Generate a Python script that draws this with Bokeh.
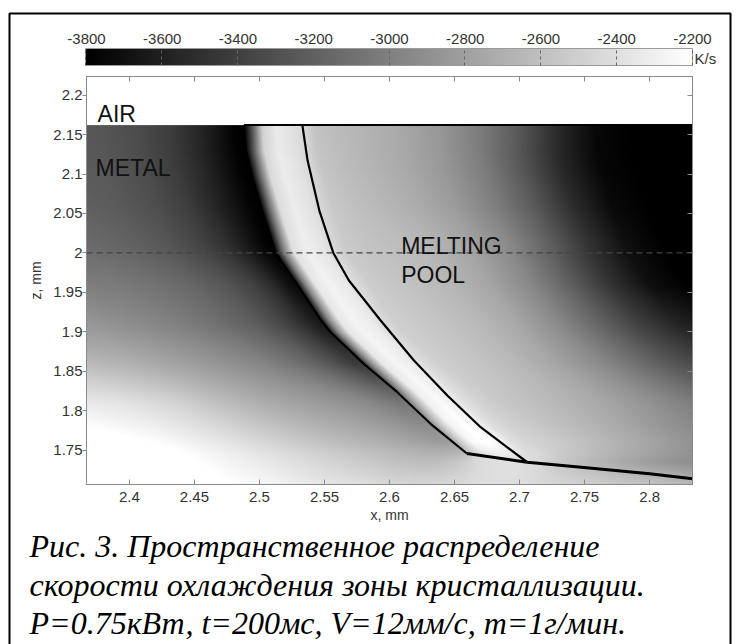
import numpy as np
from bokeh.plotting import figure
from bokeh.models import (LinearColorMapper, ColorBar, LinearAxis, Range1d, FixedTicker,
                          Label, Span, Title)
from bokeh.palettes import Greys256
from bokeh.embed import file_html
from bokeh.resources import INLINE

# ---------------- data ----------------
x_lo, x_hi = 2.367, 2.833          # visible x range, mm
z_lo, z_hi = 1.7065, 2.2236        # visible z range, mm
surface_z = 2.162                  # air / metal interface
dash_z = 2.0                       # dashed reference level

rate_lo, rate_hi = -3800, -2200    # colour scale, K/s
cb_ticks = [-3800, -3600, -3400, -3200, -3000, -2800, -2600, -2400, -2200]
cb_tick_labels = ["-3800", "-3600", "-3400", "-3200", "-3000", "-2800", "-2600", "-2400", "-2200"]

x_ticks = [2.4, 2.45, 2.5, 2.55, 2.6, 2.65, 2.7, 2.75, 2.8]
x_tick_labels = ["2.4", "2.45", "2.5", "2.55", "2.6", "2.65", "2.7", "2.75", "2.8"]
z_ticks = [1.75, 1.8, 1.85, 1.9, 1.95, 2.0, 2.05, 2.1, 2.15, 2.2]
z_tick_labels = ["1.75", "1.8", "1.85", "1.9", "1.95", "2", "2.05", "2.1", "2.15", "2.2"]

# solidification fronts and pool boundary
front_a_x = [2.488, 2.4895, 2.4945, 2.502, 2.5124, 2.5285, 2.5475, 2.5547, 2.5803, 2.606, 2.6316, 2.6595]
front_a_z = [2.162, 2.130, 2.096, 2.054, 2.000, 1.961, 1.9143, 1.8995, 1.8594, 1.8235, 1.7834, 1.7458]
front_b_x = [2.533, 2.537, 2.546, 2.5568, 2.5688, 2.5932, 2.6188, 2.6445, 2.6701, 2.6906, 2.7059]
front_b_z = [2.162, 2.117, 2.054, 2.000, 1.965, 1.9143, 1.8636, 1.8193, 1.7791, 1.7537, 1.7347]
pool_bottom_x = [2.6595, 2.7059, 2.7516, 2.800, 2.833]
pool_bottom_z = [1.7458, 1.7347, 1.7276, 1.7200, 1.7137]
pool_top_x = [2.488, 2.833]
pool_top_z = [2.162, 2.162]

# cooling rate (K/s) read along rows of constant z, at horizontal offsets u (mm)
# measured from front A (u < 0: solid metal side, u > 0: pool side)
rate_u = [-0.30, -0.26, -0.22, -0.18, -0.14, -0.11, -0.08, -0.055, -0.035, -0.02, -0.008, 0.0,
          0.006, 0.014, 0.025, 0.038, 0.046, 0.055, 0.07, 0.09, 0.12, 0.15, 0.18, 0.21,
          0.24, 0.27, 0.30, 0.35]
rate_z = [2.16, 2.11, 2.06, 2.01, 1.96, 1.91, 1.86, 1.81, 1.76, 1.735, 1.71]
rate_rows = [
    [-3250,-3250,-3250,-3250,-3250,-3260,-3330,-3430,-3550,-3670,-3780,-3800,-3300,-2500,-2330,-2400,-2450,-2580,-2620,-2670,-2740,-2850,-3010,-3230,-3520,-3750,-3800,-3800],
    [-3220,-3220,-3220,-3220,-3220,-3250,-3320,-3430,-3560,-3680,-3780,-3800,-3200,-2450,-2320,-2380,-2450,-2560,-2610,-2660,-2740,-2850,-3020,-3260,-3550,-3760,-3800,-3800],
    [-3190,-3190,-3190,-3190,-3190,-3230,-3310,-3420,-3560,-3680,-3770,-3800,-3150,-2420,-2320,-2380,-2460,-2540,-2590,-2640,-2720,-2830,-3000,-3230,-3520,-3740,-3800,-3800],
    [-3130,-3130,-3130,-3130,-3130,-3180,-3260,-3370,-3500,-3640,-3760,-3800,-3100,-2400,-2300,-2360,-2450,-2530,-2570,-2600,-2650,-2760,-2920,-3170,-3450,-3690,-3800,-3800],
    [-3000,-3000,-3000,-3000,-3030,-3080,-3160,-3260,-3380,-3520,-3680,-3750,-3000,-2350,-2280,-2340,-2430,-2510,-2550,-2590,-2660,-2770,-2950,-3200,-3470,-3700,-3800,-3800],
    [-2850,-2850,-2850,-2850,-2930,-3000,-3100,-3200,-3330,-3460,-3600,-3650,-2950,-2350,-2270,-2320,-2420,-2500,-2530,-2570,-2640,-2750,-2930,-3150,-3380,-3560,-3680,-3750],
    [-2620,-2620,-2620,-2690,-2790,-2870,-2960,-3070,-3190,-3310,-3420,-3450,-2900,-2350,-2260,-2320,-2420,-2480,-2530,-2570,-2650,-2770,-2920,-3100,-3270,-3400,-3500,-3600],
    [-2320,-2320,-2370,-2470,-2620,-2720,-2800,-2860,-2920,-2990,-3050,-3050,-2700,-2300,-2230,-2330,-2420,-2480,-2540,-2590,-2660,-2750,-2860,-2980,-3090,-3180,-3250,-3350],
    [-2100,-2150,-2230,-2350,-2470,-2560,-2640,-2700,-2760,-2800,-2820,-2800,-2500,-2250,-2180,-2280,-2400,-2450,-2500,-2560,-2660,-2760,-2870,-2950,-3000,-3050,-3100,-3150],
    [-2100,-2100,-2170,-2280,-2380,-2460,-2530,-2590,-2610,-2600,-2550,-2500,-2450,-2420,-2400,-2400,-2420,-2440,-2540,-2620,-2740,-2850,-2930,-2950,-2980,-3000,-3000,-3000],
    [-2100,-2100,-2100,-2210,-2300,-2370,-2420,-2470,-2480,-2470,-2450,-2440,-2420,-2410,-2400,-2410,-2420,-2440,-2470,-2510,-2570,-2620,-2680,-2700,-2700,-2700,-2700,-2700],
]

region_labels = ["AIR", "METAL", "MELTING", "POOL"]
region_label_x = [2.3755, 2.374, 2.609, 2.609]
region_label_z = [2.1767, 2.1082, 2.0094, 1.9726]

colorbar_unit = "K/s"
caption_lines = [
    "Рис. 3. Пространственное распределение",
    "скорости охлаждения зоны кристаллизации.",
    "P=0.75кВт, t=200мс, V=12мм/с, m=1г/мин.",
]

# ---------------- raster of the field for display ----------------
W, H = 736, 644
FL, FR, FT, FB = 86, 44, 76, 160        # frame borders inside the canvas
frame_w = W - FL - FR
frame_h = H - FT - FB

nx = frame_w
nz = int(round(frame_h * (surface_z - z_lo) / (z_hi - z_lo)))
xs = x_lo + (np.arange(nx) + 0.5) * (x_hi - x_lo) / nx
zs = z_lo + (np.arange(nz) + 0.5) * (surface_z - z_lo) / nz
fa_z = np.array(front_a_z)[::-1]
fa_x = np.array(front_a_x)[::-1]
rz = np.array(rate_z)[::-1]
rr = np.array(rate_rows, dtype=float)[::-1]
field = np.empty((nz, nx), dtype=np.float32)
for j, z in enumerate(zs):
    u = xs - np.interp(z, fa_z, fa_x)
    k = int(np.clip(np.searchsorted(rz, z) - 1, 0, len(rz) - 2))
    t = float(np.clip((z - rz[k]) / (rz[k + 1] - rz[k]), 0.0, 1.0))
    lo = np.interp(u, rate_u, rr[k])
    hi = np.interp(u, rate_u, rr[k + 1])
    field[j] = lo + t * (hi - lo)

# ---------------- figure ----------------
p = figure(width=W, height=H, output_backend="svg", toolbar_location=None,
           x_range=Range1d(x_lo, x_hi), y_range=Range1d(z_lo, z_hi),
           min_border_left=FL, min_border_right=FR, min_border_top=FT, min_border_bottom=FB,
           background_fill_color="white", border_fill_color="white")
p.grid.visible = False
p.outline_line_color = "#8a8a8a"

mapper = LinearColorMapper(palette=Greys256, low=rate_lo, high=rate_hi)
p.image(image=[field], x=x_lo, y=z_lo, dw=x_hi - x_lo, dh=surface_z - z_lo, color_mapper=mapper)

p.add_layout(Span(location=dash_z, dimension="width", line_color="#444444",
                  line_width=1.2, line_dash="6 4"))

p.line(front_a_x, front_a_z, line_color="black", line_width=2.2)
p.line(front_b_x, front_b_z, line_color="black", line_width=2.2)
p.line(pool_bottom_x, pool_bottom_z, line_color="black", line_width=3)
p.line(pool_top_x, pool_top_z, line_color="black", line_width=2)

for t, lx, lz in zip(region_labels, region_label_x, region_label_z):
    p.add_layout(Label(x=lx, y=lz, text=t, text_font="Liberation Sans", text_font_size="23px",
                       text_color="#111111", text_baseline="alphabetic"))

# axes
tick_font = "Liberation Sans"
xa = p.xaxis[0]
xa.ticker = FixedTicker(ticks=x_ticks)
xa.major_label_overrides = dict(zip(x_ticks, x_tick_labels))
xa.major_tick_in, xa.major_tick_out = 5, 0
xa.minor_tick_line_color = None
xa.major_label_standoff = 7
xa.axis_label = "x, mm"
xa.axis_label_standoff = 2

ya = p.yaxis[0]
ya.ticker = FixedTicker(ticks=z_ticks)
ya.major_label_overrides = dict(zip(z_ticks, z_tick_labels))
ya.major_tick_in, ya.major_tick_out = 0, 4
ya.minor_tick_line_color = None
ya.major_label_standoff = 0
ya.axis_label = "z, mm"
ya.axis_label_standoff = 6

for ax in (xa, ya):
    ax.axis_line_color = "#8a8a8a"
    ax.major_tick_line_color = "#8a8a8a"
    ax.major_label_text_font = tick_font
    ax.major_label_text_font_size = "15px"
    ax.major_label_text_color = "#333333"
    ax.axis_label_text_font = tick_font
    ax.axis_label_text_font_size = "14px"
    ax.axis_label_text_font_style = "normal"
    ax.axis_label_text_color = "#333333"

# inward ticks on the top and right sides of the box (no labels there)
top_ax = LinearAxis(ticker=FixedTicker(ticks=x_ticks), major_tick_in=5, major_tick_out=0,
                    minor_tick_line_color=None, major_label_text_color=None,
                    major_label_text_font_size="1px", major_label_standoff=0,
                    axis_line_color="#8a8a8a", major_tick_line_color="#8a8a8a")
p.add_layout(top_ax, "above")
right_ax = LinearAxis(ticker=FixedTicker(ticks=z_ticks), major_tick_in=5, major_tick_out=0,
                      minor_tick_line_color=None, major_label_text_color=None,
                      major_label_text_font_size="1px", major_label_standoff=0,
                      axis_line_color="#8a8a8a", major_tick_line_color="#8a8a8a")
p.add_layout(right_ax, "right")

# colour bar with its labels above
p.extra_x_ranges = {"cb": Range1d(rate_lo, rate_hi)}
cb_ax = LinearAxis(x_range_name="cb", ticker=FixedTicker(ticks=cb_ticks),
                   major_tick_in=0, major_tick_out=0, minor_tick_line_color=None,
                   major_tick_line_color=None, axis_line_color=None,
                   major_label_standoff=33, major_label_text_font=tick_font,
                   major_label_text_font_size="15px", major_label_text_color="#333333")
cb_ax.major_label_overrides = dict(zip(cb_ticks, cb_tick_labels))
p.add_layout(cb_ax, "above")

cb = ColorBar(color_mapper=mapper, orientation="horizontal", location=(-1, frame_h + 11),
              width=frame_w + 1, height=17, padding=0, margin=0,
              ticker=FixedTicker(ticks=cb_ticks), major_label_text_color=None,
              major_label_text_font_size="1px", label_standoff=0,
              major_tick_in=17, major_tick_out=0, major_tick_line_color="#666666",
              major_tick_line_dash="3 3", minor_tick_line_color=None,
              bar_line_color="#9a9a9a", background_fill_color=None, border_line_color=None)
p.add_layout(cb, "center")

# unit of the colour bar, right of the bar (title of an empty, transparent bar)
unit_box = ColorBar(color_mapper=mapper, orientation="horizontal", location=(608, 417),
                    width=30, height=1, padding=0, margin=0, scale_alpha=0,
                    ticker=FixedTicker(ticks=[]), minor_tick_line_color=None,
                    major_tick_line_color=None, bar_line_color=None,
                    background_fill_color=None, border_line_color=None,
                    title=colorbar_unit, title_standoff=0, title_text_font=tick_font,
                    title_text_font_size="15px", title_text_font_style="normal",
                    title_text_color="#333333")
p.add_layout(unit_box, "center")

# caption under the chart
caption_standoffs = [1, 0, 0]
for line, so in zip(caption_lines, caption_standoffs):
    p.add_layout(Title(text=line, align="left", offset=29 - FL, standoff=so,
                       text_font="Liberation Serif", text_font_style="italic",
                       text_font_size="32px", text_color="black"), "below")

# outer frame of the figure panel (an empty, transparent bar used only for its border)
frame_box = ColorBar(color_mapper=mapper, orientation="vertical", location=(9 - FL, (FT + frame_h) - 660),
                     width=721, height=647, padding=0, margin=0, scale_alpha=0,
                     ticker=FixedTicker(ticks=[]), minor_tick_line_color=None,
                     major_tick_line_color=None, bar_line_color=None,
                     background_fill_color=None, border_line_color="black", border_line_width=2)
p.add_layout(frame_box, "center")

open("out.html", "w").write(file_html(p, INLINE))
